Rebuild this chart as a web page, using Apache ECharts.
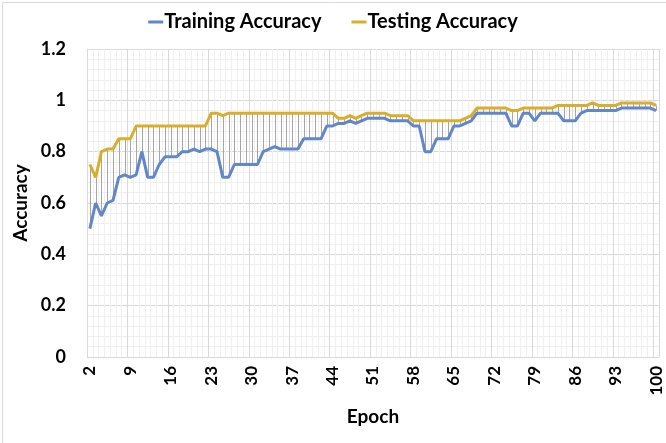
<!DOCTYPE html>
<html>
<head>
<meta charset="utf-8">
<script src="https://cdn.jsdelivr.net/npm/echarts@6/dist/echarts.min.js"></script>
<style>
html,body{margin:0;padding:0;background:#fff;}
#chart{width:666px;height:443px;}
</style>
</head>
<body>
<div id="chart"></div>
<script>
const epochs = [2,3,4,5,6,7,8,9,10,11,12,13,14,15,16,17,18,19,20,21,22,23,24,25,26,27,28,29,30,31,32,33,34,35,36,37,38,39,40,41,42,43,44,45,46,47,48,49,50,51,52,53,54,55,56,57,58,59,60,61,62,63,64,65,66,67,68,69,70,71,72,73,74,75,76,77,78,79,80,81,82,83,84,85,86,87,88,89,90,91,92,93,94,95,96,97,98,99,100];

const trainingAccuracy = [
  0.50,0.60,0.55,0.60,0.61,0.70,0.71,0.70,0.71,0.80, // 2-11
  0.70,0.70,0.75,0.78,0.78,0.78,0.80,0.80,0.81,0.80, // 12-21
  0.81,0.81,0.80,0.70,0.70,0.75,0.75,0.75,0.75,0.75, // 22-31
  0.80,0.81,0.82,0.81,0.81,0.81,0.81,0.85,0.85,0.85, // 32-41
  0.85,0.90,0.90,0.91,0.91,0.92,0.91,0.92,0.93,0.93, // 42-51
  0.93,0.93,0.92,0.92,0.92,0.92,0.90,0.90,0.80,0.80, // 52-61
  0.85,0.85,0.85,0.90,0.90,0.91,0.92,0.95,0.95,0.95, // 62-71
  0.95,0.95,0.95,0.90,0.90,0.95,0.95,0.92,0.95,0.95, // 72-81
  0.95,0.95,0.92,0.92,0.92,0.95,0.96,0.96,0.96,0.96, // 82-91
  0.96,0.96,0.97,0.97,0.97,0.97,0.97,0.97,0.96       // 92-100
];

const testingAccuracy = [
  0.75,0.70,0.80,0.81,0.81,0.85,0.85,0.85,0.90,0.90, // 2-11
  0.90,0.90,0.90,0.90,0.90,0.90,0.90,0.90,0.90,0.90, // 12-21
  0.90,0.95,0.95,0.94,0.95,0.95,0.95,0.95,0.95,0.95, // 22-31
  0.95,0.95,0.95,0.95,0.95,0.95,0.95,0.95,0.95,0.95, // 32-41
  0.95,0.95,0.95,0.93,0.93,0.94,0.93,0.94,0.95,0.95, // 42-51
  0.95,0.95,0.94,0.94,0.94,0.94,0.92,0.92,0.92,0.92, // 52-61
  0.92,0.92,0.92,0.92,0.92,0.93,0.94,0.97,0.97,0.97, // 62-71
  0.97,0.97,0.97,0.96,0.96,0.97,0.97,0.97,0.97,0.97, // 72-81
  0.97,0.98,0.98,0.98,0.98,0.98,0.98,0.99,0.98,0.98, // 82-91
  0.98,0.98,0.99,0.99,0.99,0.99,0.99,0.99,0.98       // 92-100
];

const yTicks = { min: 0, max: 1.2, interval: 0.2 };
const labelEvery = 7;

const FONT = 'Lato';
const BLUE = '#6287C8';
const GOLD = '#D9AE2A';

const chart = echarts.init(document.getElementById('chart'), null, { renderer: 'canvas' });

const dropData = epochs.map((e, i) => [i, trainingAccuracy[i], testingAccuracy[i]]);

chart.setOption({
  animation: false,
  backgroundColor: '#ffffff',
  graphic: [{
    type: 'rect',
    left: 0, top: 0,
    shape: { x: 0.5, y: 0.5, width: 665, height: 442 },
    style: { fill: 'none', stroke: '#d9d9d9', lineWidth: 1 },
    silent: true
  }],
  legend: {
    data: ['Training Accuracy', 'Testing Accuracy'],
    top: 7,
    left: 'center',
    itemWidth: 15,
    itemHeight: 3,
    itemGap: 30,
    icon: 'rect',
    textStyle: { fontFamily: FONT, fontWeight: 'bold', fontSize: 20, color: '#000', padding: [0, 0, 0, -4] }
  },
  grid: { left: 87, right: 7, top: 49, bottom: 86, containLabel: false },
  xAxis: [{
    type: 'category',
    data: epochs,
    boundaryGap: true,
    name: 'Epoch',
    nameLocation: 'middle',
    nameGap: 50,
    nameTextStyle: { fontFamily: FONT, fontWeight: 'bold', fontSize: 19, color: '#000' },
    axisLine: { show: true, lineStyle: { color: '#d9d9d9' } },
    axisTick: { show: false },
    axisLabel: {
      interval: labelEvery - 1,
      rotate: 90,
      margin: 9,
      fontFamily: FONT, fontWeight: 'bold', fontSize: 17, color: '#000'
    },
    splitLine: { show: true, interval: labelEvery - 1, lineStyle: { color: '#d9d9d9', width: 1 } },
    z: 2
  }, {
    type: 'category',
    data: epochs,
    boundaryGap: true,
    position: 'bottom',
    axisLine: { show: false },
    axisTick: { show: false },
    axisLabel: { show: false },
    splitLine: { show: true, interval: 0, lineStyle: { color: '#f0f0f0', width: 1 } },
    z: 1
  }],
  yAxis: {
    type: 'value',
    min: yTicks.min,
    max: yTicks.max,
    interval: yTicks.interval,
    name: 'Accuracy',
    nameLocation: 'middle',
    nameGap: 53,
    nameTextStyle: { fontFamily: FONT, fontWeight: 'bold', fontSize: 19, color: '#000' },
    axisLine: { show: true, lineStyle: { color: '#d9d9d9' } },
    axisTick: { show: false },
    axisLabel: { margin: 21, fontFamily: FONT, fontWeight: 'bold', fontSize: 18, color: '#000' },
    splitLine: { show: true, lineStyle: { color: '#d9d9d9', width: 1 } },
    minorTick: { show: false, splitNumber: 5 },
    minorSplitLine: { show: true, lineStyle: { color: '#f0f0f0', width: 1 } }
  },
  series: [{
    name: 'Drop lines',
    type: 'custom',
    xAxisIndex: 0,
    data: dropData,
    encode: { x: 0, y: [1, 2] },
    z: 3,
    silent: true,
    renderItem: function (params, api) {
      const i = api.value(0);
      const a = api.coord([i, api.value(1)]);
      const b = api.coord([i, api.value(2)]);
      const x = Math.round(a[0]) + 0.5;
      return {
        type: 'line',
        shape: { x1: x, y1: a[1], x2: x, y2: b[1] },
        style: { stroke: '#a6a6a6', lineWidth: 1 }
      };
    }
  }, {
    name: 'Training Accuracy',
    type: 'line',
    xAxisIndex: 0,
    data: trainingAccuracy,
    symbol: 'none',
    lineStyle: { color: BLUE, width: 3 },
    itemStyle: { color: BLUE },
    z: 5
  }, {
    name: 'Testing Accuracy',
    type: 'line',
    xAxisIndex: 0,
    data: testingAccuracy,
    symbol: 'none',
    lineStyle: { color: GOLD, width: 3 },
    itemStyle: { color: GOLD },
    z: 4
  }]
});
</script>
</body>
</html>
